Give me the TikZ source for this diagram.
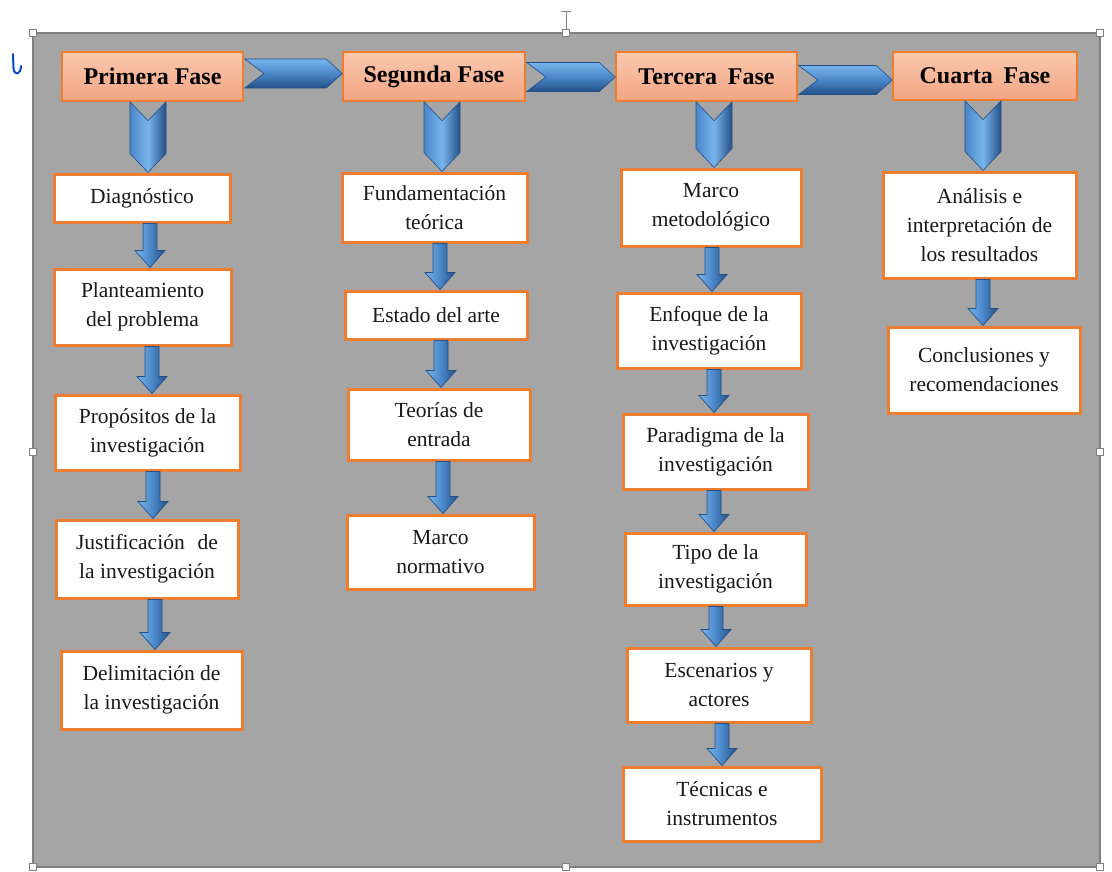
\documentclass[tikz,border=0pt]{standalone}
\usepackage{fontspec}
\setmainfont{Liberation Serif}
\usetikzlibrary{calc}
\definecolor{bggray}{RGB}{165,165,165}
\definecolor{bgedge}{RGB}{128,128,128}
\definecolor{orangeE}{RGB}{237,125,49}
\definecolor{salTop}{RGB}{250,200,175}
\definecolor{salBot}{RGB}{243,165,130}
\definecolor{arrlight}{RGB}{120,180,235}
\definecolor{arrmid}{RGB}{75,135,200}
\definecolor{arrdark}{RGB}{35,80,135}
\definecolor{txt}{RGB}{25,25,25}
\tikzset{
  phase/.style={draw=orangeE, line width=1.5pt, top color=salTop, bottom color=salBot,
    font=\bfseries\fontsize{24}{28}\selectfont, text=black, inner sep=0pt, align=center},
  box/.style={draw=orangeE, line width=3pt, fill=white,
    font=\fontsize{21.5}{29}\selectfont, text=txt, inner sep=0pt, align=center},
  smallarr/.style={left color=arrlight, right color=arrdark, middle color=arrmid, draw=arrdark, line width=0.7pt},
  vchev/.style={left color=arrmid, right color=arrdark, middle color=arrlight, draw=arrdark, line width=0.6pt},
  hchev/.style={top color=arrlight, bottom color=arrdark, middle color=arrmid, draw=arrdark, line width=0.6pt},
  handle/.style={draw=bgedge, fill=white, line width=0.6pt, minimum size=7pt, inner sep=0pt},
}
% small down arrow from node #1 to node #2 at x = #3
\newcommand\dnarrow[3]{%
  \shade[smallarr] let \p1=(#1.south), \p2=(#2.north) in
   ({#3pt-7pt},\y1) -- ({#3pt+7pt},\y1) -- ({#3pt+7pt},{\y2+17pt}) -- ({#3pt+15pt},{\y2+17pt})
   -- (#3pt,\y2) -- ({#3pt-15pt},{\y2+17pt}) -- ({#3pt-7pt},{\y2+17pt}) -- cycle;}
% vertical chevron from header #1 to node #2 at x = #3
\newcommand\vchevron[3]{%
  \shade[vchev] let \p1=(#1.south), \p2=(#2.north) in
   ({#3pt-18pt},\y1) -- (#3pt,{\y1-19pt}) -- ({#3pt+18pt},\y1) -- ({#3pt+18pt},{\y2+19pt})
   -- (#3pt,\y2) -- ({#3pt-18pt},{\y2+19pt}) -- cycle;}
% horizontal chevron from header #1 to header #2 at y = #3
\newcommand\hchevron[3]{%
  \shade[hchev] let \p1=(#1.east), \p2=(#2.west) in
   ({\x1+1pt},{-#3pt+14.5pt}) -- ({\x2-16pt},{-#3pt+14.5pt}) -- (\x2,{-#3pt})
   -- ({\x2-16pt},{-#3pt-14.5pt}) -- ({\x1+1pt},{-#3pt-14.5pt}) -- ({\x1+20pt},{-#3pt}) -- cycle;}
\begin{document}
\begin{tikzpicture}[x=1pt,y=-1pt]
\useasboundingbox (0,0) rectangle (1112,871);
% frame
\fill[bggray] (33,33) rectangle (1100,867);
\draw[bgedge, line width=2.5pt] (33,33) rectangle (1100,867);
% rotation handle and anchor mark
\draw[bgedge, line width=1pt] (566,12) -- (566,30);
\draw[bgedge, line width=1pt] (561,11) -- (571,11);
\draw[blue!65!cyan!80!black, line width=2pt, line cap=round] (13,54) -- (13.5,68) .. controls (14,76) and (21,75) .. (21,66);
\foreach \n/\p in {h1/{33,33},h2/{566,33},h3/{1100,33},h4/{33,452},h5/{1100,452},h6/{33,867},h7/{566,867},h8/{1100,867}}
  \node[handle] (\n) at (\p) {};

% phase headers
\node[phase, minimum width=181pt, minimum height=49pt] (p1) at (152.5,76.5) {Primera Fase};
\node[phase, minimum width=182pt, minimum height=49pt] (p2) at (434,76.5) {Segunda Fase};
\node[phase, minimum width=181pt, minimum height=49pt] (p3) at (706.5,76.5) {Tercera\hspace{0.45em}Fase};
\node[phase, minimum width=184pt, minimum height=48pt] (p4) at (985,76) {Cuarta\hspace{0.45em}Fase};

% column 1
\node[box, minimum width=176pt, minimum height=48pt] (a1) at (142,198) {Diagnóstico};
\node[box, minimum width=177pt, minimum height=76pt] (a2) at (142.5,307) {Planteamiento\\del problema};
\node[box, minimum width=185pt, minimum height=75pt] (a3) at (147.5,432.5) {Propósitos de la\\investigación};
\node[box, minimum width=182pt, minimum height=78pt] (a4) at (147,559) {Justificación\hspace{0.6em}de\\la investigación};
\node[box, minimum width=181pt, minimum height=78pt] (a5) at (151.5,690) {Delimitación de\\la investigación};

% column 2
\node[box, minimum width=185pt, minimum height=69pt] (b1) at (434.5,207.5) {Fundamentación\\teórica};
\node[box, minimum width=182pt, minimum height=48pt] (b2) at (436,315) {Estado del arte};
\node[box, minimum width=182pt, minimum height=71pt] (b3) at (439,424.5) {Teorías de\\entrada};
\node[box, minimum width=187pt, minimum height=74pt] (b4) at (440.5,552) {Marco\\normativo};

% column 3
\node[box, minimum width=180pt, minimum height=77pt] (c1) at (711,207.5) {Marco\\metodológico};
\node[box, minimum width=184pt, minimum height=75pt] (c2) at (709,330.5) {Enfoque de la\\investigación};
\node[box, minimum width=185pt, minimum height=75pt] (c3) at (715.5,451.5) {Paradigma de la\\investigación};
\node[box, minimum width=181pt, minimum height=72pt] (c4) at (715.5,569) {Tipo de la\\investigación};
\node[box, minimum width=184pt, minimum height=74pt] (c5) at (719,685) {Escenarios y\\actores};
\node[box, minimum width=198pt, minimum height=74pt] (c6) at (722,804) {Técnicas e\\instrumentos};

% column 4
\node[box, minimum width=193pt, minimum height=106pt] (d1) at (979.5,225) {Análisis e\\interpretación de\\los resultados};
\node[box, minimum width=192pt, minimum height=86pt] (d2) at (984,370) {Conclusiones y\\recomendaciones};

% header chevrons
\hchevron{p1}{p2}{73.5}
\hchevron{p2}{p3}{77}
\hchevron{p3}{p4}{80}
\vchevron{p1}{a1}{148}
\vchevron{p2}{b1}{442}
\vchevron{p3}{c1}{714}
\vchevron{p4}{d1}{983}

% small arrows
\dnarrow{a1}{a2}{150}
\dnarrow{a2}{a3}{152}
\dnarrow{a3}{a4}{153}
\dnarrow{a4}{a5}{155}
\dnarrow{b1}{b2}{440}
\dnarrow{b2}{b3}{441}
\dnarrow{b3}{b4}{443}
\dnarrow{c1}{c2}{712}
\dnarrow{c2}{c3}{714}
\dnarrow{c3}{c4}{714}
\dnarrow{c4}{c5}{716}
\dnarrow{c5}{c6}{722}
\dnarrow{d1}{d2}{983}
\end{tikzpicture}
\end{document}
